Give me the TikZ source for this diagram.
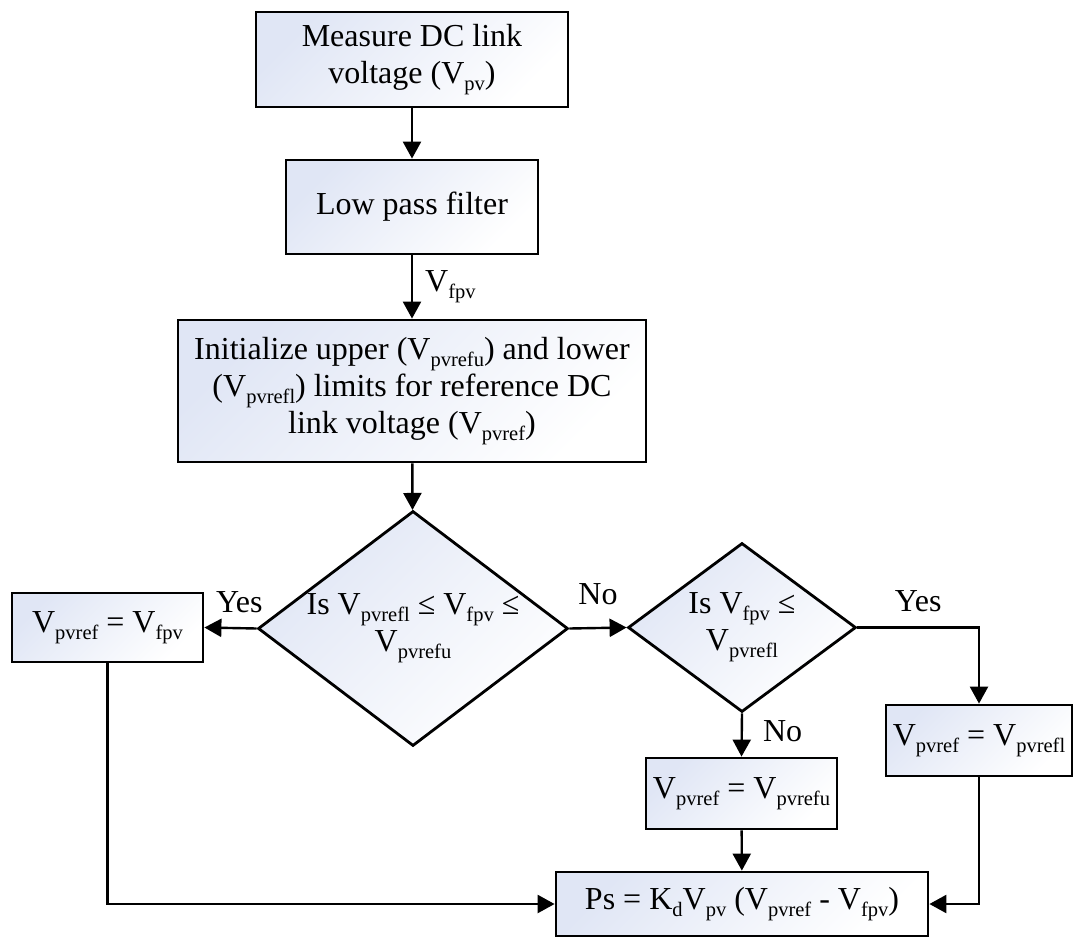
\documentclass[tikz,border=0pt]{standalone}
\usepackage{fontspec}
\setmainfont{Liberation Serif}
\usepackage{tikz}
\usetikzlibrary{positioning,arrows.meta,shapes.geometric}

\definecolor{boxshade}{RGB}{224,230,245}
% lowered small index text
\newcommand{\sub}[1]{\raisebox{-0.22em}{\fontsize{20.5}{22}\selectfont#1}}

\begin{document}
\begin{tikzpicture}[
    x=1pt, y=-1pt,
    font=\fontsize{32}{37}\selectfont,
    block/.style={rectangle, draw, line width=2.8pt, align=center, inner sep=2pt,
                  left color=boxshade, right color=white, shading angle=45},
    decision/.style={diamond, draw, line width=2.8pt, align=center, inner sep=0pt,
                  left color=boxshade, right color=white, shading angle=45},
    flow/.style={line width=2.4pt, -{Triangle[length=17pt,width=18pt]}},
    lbl/.style={inner sep=2pt}
]
\useasboundingbox (0,0) rectangle (1074,937);

% main column
\node[block, minimum width=312pt, minimum height=95pt] (meas) at (412,59.5)
    {Measure DC link\\voltage (V\sub{pv})};
\node[block, minimum width=252pt, minimum height=94pt] (lpf) at (412,207)
    {Low pass filter};
\node[block, minimum width=468pt, minimum height=142pt] (init) at (412,391)
    {Initialize upper (V\sub{pvrefu}) and lower\\(V\sub{pvrefl}) limits for reference DC\\link voltage (V\sub{pvref})};

% decisions
\node[decision, aspect=1.32, minimum width=310pt, minimum height=235pt] (inband) at (413,628.5)
    {Is V\sub{pvrefl} ≤ V\sub{fpv} ≤\\V\sub{pvrefu}};
\node[decision, aspect=1.35, minimum width=228pt, minimum height=169pt] (below) at (742,627.5)
    {Is V\sub{fpv} ≤\\V\sub{pvrefl}};

% reference updates
\node[block, minimum width=191pt, minimum height=69pt] (keep) at (107.5,627.5)
    {V\sub{pvref} = V\sub{fpv}};
\node[block, minimum width=191pt, minimum height=71pt] (setu) at (741.5,793.5)
    {V\sub{pvref} = V\sub{pvrefu}};
\node[block, minimum width=186pt, minimum height=71pt] (setl) at (979,740.5)
    {V\sub{pvref} = V\sub{pvrefl}};

% power command
\node[block, minimum width=372pt, minimum height=64pt] (power) at (742,904)
    {Ps = K\sub{d}V\sub{pv} (V\sub{pvref} - V\sub{fpv})};

% connectors
\draw[flow] (meas) -- (lpf);
\draw[flow] (lpf) -- node[lbl, right=10pt] {V\sub{fpv}} (init);
\draw[flow] (init) -- (inband);
\draw[flow] (inband.west) -- node[lbl, above=12pt, pos=0.33] {Yes} (keep.east);
\draw[flow] (inband.east) -- node[lbl, above=20pt] {No} (below.west);
\draw[flow] (below.east) -| node[lbl, above=12pt, pos=0.25] {Yes} (setl.north);
\draw[flow] (below.south) -- node[lbl, right=18pt, pos=0.4] {No} (setu.north);
\draw[flow] (setu) -- (power);
\draw[flow] (keep.south) |- (power.west);
\draw[flow] (setl.south) |- (power.east);

\end{tikzpicture}
\end{document}
